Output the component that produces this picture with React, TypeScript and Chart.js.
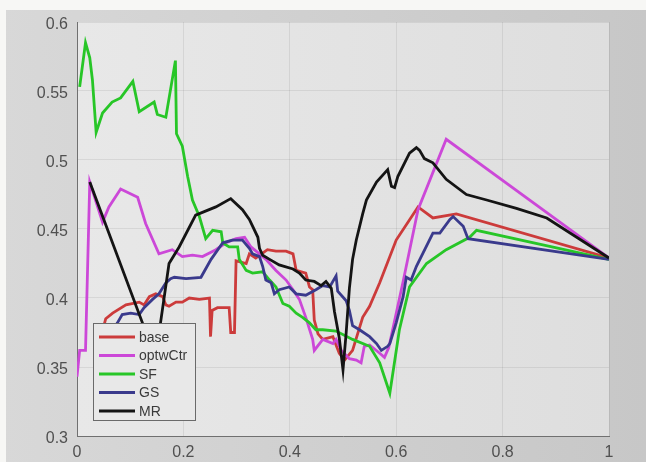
import React, { useEffect, useRef } from "react";
import { Chart, registerables } from "chart.js";

Chart.register(...registerables);

const seriesLabels = ["base", "optwCtr", "SF", "GS", "MR"];
const seriesColors = ["#cc3b3b", "#cc48d8", "#27c627", "#3a3a8c", "#141414"];

const xTicks = [0, 0.2, 0.4, 0.6, 0.8, 1];
const yTicks = [0.3, 0.35, 0.4, 0.45, 0.5, 0.55, 0.6];

const baseX = [0.045, 0.054, 0.067, 0.092, 0.117, 0.126, 0.136, 0.148, 0.161, 0.167, 0.173, 0.186, 0.198, 0.211, 0.23, 0.249, 0.251, 0.254, 0.264, 0.286, 0.289, 0.296, 0.299, 0.308, 0.318, 0.324, 0.336, 0.358, 0.374, 0.393, 0.406, 0.412, 0.43, 0.437, 0.443, 0.446, 0.453, 0.462, 0.481, 0.493, 0.503, 0.518, 0.537, 0.55, 0.569, 0.6, 0.641, 0.669, 0.713, 1.0];
const baseY = [0.372, 0.385, 0.389, 0.395, 0.397, 0.395, 0.401, 0.403, 0.401, 0.395, 0.394, 0.397, 0.397, 0.4, 0.399, 0.4, 0.372, 0.391, 0.393, 0.393, 0.375, 0.375, 0.427, 0.426, 0.425, 0.432, 0.429, 0.435, 0.434, 0.434, 0.432, 0.42, 0.418, 0.408, 0.406, 0.384, 0.374, 0.37, 0.372, 0.36, 0.355, 0.362, 0.386, 0.394, 0.411, 0.442, 0.466, 0.458, 0.461, 0.429];

const optX = [0.0, 0.005, 0.016, 0.024, 0.048, 0.06, 0.082, 0.114, 0.129, 0.154, 0.179, 0.198, 0.217, 0.236, 0.261, 0.28, 0.299, 0.315, 0.327, 0.343, 0.355, 0.374, 0.393, 0.406, 0.418, 0.43, 0.443, 0.446, 0.462, 0.481, 0.487, 0.497, 0.512, 0.525, 0.534, 0.54, 0.55, 0.569, 0.578, 0.586, 0.613, 0.641, 0.694, 1.0];
const optY = [0.343, 0.362, 0.362, 0.484, 0.455, 0.466, 0.479, 0.473, 0.454, 0.432, 0.435, 0.43, 0.431, 0.43, 0.435, 0.44, 0.443, 0.444, 0.437, 0.432, 0.428, 0.42, 0.413, 0.406, 0.399, 0.386, 0.37, 0.362, 0.37, 0.367, 0.37, 0.362, 0.356, 0.355, 0.353, 0.365, 0.366, 0.36, 0.357, 0.364, 0.412, 0.464, 0.515, 0.429];

const sfX = [0.005, 0.016, 0.024, 0.029, 0.036, 0.048, 0.066, 0.082, 0.105, 0.117, 0.145, 0.151, 0.167, 0.185, 0.187, 0.198, 0.208, 0.217, 0.23, 0.242, 0.255, 0.271, 0.274, 0.286, 0.302, 0.305, 0.318, 0.33, 0.349, 0.362, 0.374, 0.387, 0.399, 0.412, 0.424, 0.437, 0.449, 0.462, 0.487, 0.518, 0.55, 0.569, 0.588, 0.606, 0.625, 0.657, 0.694, 0.738, 0.751, 1.0];
const sfY = [0.553, 0.585, 0.574, 0.558, 0.52, 0.534, 0.542, 0.545, 0.557, 0.535, 0.542, 0.533, 0.531, 0.572, 0.519, 0.51, 0.488, 0.471, 0.459, 0.443, 0.449, 0.448, 0.44, 0.437, 0.437, 0.428, 0.42, 0.418, 0.419, 0.413, 0.408, 0.396, 0.394, 0.389, 0.386, 0.382, 0.377, 0.377, 0.376, 0.37, 0.365, 0.353, 0.331, 0.377, 0.408, 0.425, 0.435, 0.444, 0.449, 0.428];

const gsX = [0.06, 0.076, 0.085, 0.101, 0.117, 0.126, 0.142, 0.154, 0.167, 0.176, 0.183, 0.205, 0.233, 0.252, 0.274, 0.292, 0.311, 0.324, 0.33, 0.343, 0.349, 0.355, 0.365, 0.371, 0.38, 0.399, 0.412, 0.43, 0.449, 0.462, 0.475, 0.487, 0.49, 0.506, 0.512, 0.518, 0.531, 0.55, 0.563, 0.572, 0.584, 0.588, 0.6, 0.613, 0.619, 0.628, 0.638, 0.669, 0.682, 0.701, 0.707, 0.726, 0.735, 1.0];
const gsY = [0.372, 0.382, 0.388, 0.389, 0.388, 0.393, 0.399, 0.403, 0.411, 0.414, 0.415, 0.414, 0.415, 0.428, 0.44, 0.442, 0.442, 0.436, 0.432, 0.43, 0.423, 0.413, 0.411, 0.403, 0.406, 0.408, 0.403, 0.402, 0.406, 0.409, 0.408, 0.416, 0.405, 0.398, 0.391, 0.38, 0.377, 0.372, 0.367, 0.362, 0.365, 0.367, 0.382, 0.401, 0.415, 0.413, 0.423, 0.447, 0.447, 0.457, 0.459, 0.452, 0.443, 0.428];

const mrX = [0.024, 0.123, 0.14, 0.157, 0.173, 0.192, 0.223, 0.261, 0.289, 0.311, 0.324, 0.34, 0.343, 0.349, 0.362, 0.38, 0.406, 0.418, 0.43, 0.446, 0.459, 0.468, 0.478, 0.484, 0.493, 0.5, 0.506, 0.512, 0.518, 0.525, 0.537, 0.544, 0.563, 0.584, 0.591, 0.597, 0.603, 0.625, 0.638, 0.644, 0.653, 0.669, 0.694, 0.732, 0.77, 0.826, 0.883, 1.0];
const mrY = [0.484, 0.382, 0.358, 0.382, 0.425, 0.437, 0.46, 0.466, 0.472, 0.464, 0.457, 0.444, 0.436, 0.431, 0.428, 0.424, 0.421, 0.418, 0.413, 0.412, 0.409, 0.412, 0.407, 0.39, 0.371, 0.348, 0.375, 0.407, 0.428, 0.442, 0.461, 0.471, 0.484, 0.493, 0.481, 0.48, 0.488, 0.505, 0.509, 0.507, 0.501, 0.498, 0.486, 0.475, 0.471, 0.465, 0.458, 0.429];

const seriesX = [baseX, optX, sfX, gsX, mrX];
const seriesY = [baseY, optY, sfY, gsY, mrY];

const fmt = (v: number) => String(Number(v.toFixed(2)));

const bgPlugin = {
  id: "bgPlugin",
  beforeDraw(chart: any) {
    const { ctx, chartArea: a, width, height } = chart;
    ctx.save();
    const g = ctx.createLinearGradient(0, 0, width, 0);
    g.addColorStop(0, "#d8d8d8");
    g.addColorStop(1, "#c7c7c7");
    ctx.fillStyle = g;
    ctx.fillRect(0, 0, width, height);
    ctx.fillStyle = "#f7f7f5";
    ctx.fillRect(0, 0, width, 10);
    ctx.fillRect(0, 0, 6, height);
    const g2 = ctx.createLinearGradient(a.left, 0, a.right, 0);
    g2.addColorStop(0, "#e8e8e8");
    g2.addColorStop(1, "#dedede");
    ctx.fillStyle = g2;
    ctx.fillRect(a.left, a.top, a.right - a.left, a.bottom - a.top);
    ctx.restore();
  },
};

const legendPlugin = {
  id: "boxLegend",
  afterDatasetsDraw(chart: any) {
    const { ctx, chartArea: a } = chart;
    const left = a.left + 16;
    const bottom = a.bottom - 16;
    const w = 102;
    const h = 97;
    const top = bottom - h;
    ctx.save();
    ctx.fillStyle = "#e8e8e8";
    ctx.fillRect(left, top, w, h);
    ctx.strokeStyle = "#6a6a6a";
    ctx.lineWidth = 1;
    ctx.strokeRect(left + 0.5, top + 0.5, w, h);
    ctx.font = "14px 'Liberation Sans', Arial, sans-serif";
    ctx.textBaseline = "middle";
    chart.data.datasets.forEach((ds: any, i: number) => {
      const y = top + 14 + i * 18.5;
      ctx.strokeStyle = ds.borderColor;
      ctx.lineWidth = 3;
      ctx.beginPath();
      ctx.moveTo(left + 6, y);
      ctx.lineTo(left + 42, y);
      ctx.stroke();
      ctx.fillStyle = "#3a3a3a";
      ctx.fillText(ds.label, left + 46, y + 1);
    });
    ctx.restore();
  },
};

export default function App() {
  const ref = useRef<HTMLCanvasElement | null>(null);
  useEffect(() => {
    if (!ref.current) return;
    const datasets = seriesLabels.map((label, i) => ({
      label,
      data: seriesX[i].map((x, j) => ({ x, y: seriesY[i][j] })),
      borderColor: seriesColors[i],
      backgroundColor: seriesColors[i],
      borderWidth: 2.8,
      pointRadius: 0,
      tension: 0,
      fill: false,
      order: seriesLabels.length - i,
    }));
    const tickFont = { family: "'Liberation Sans', Arial, sans-serif", size: 16 };
    const chart = new Chart(ref.current, {
      type: "line",
      data: { datasets },
      plugins: [bgPlugin, legendPlugin],
      options: {
        animation: false,
        responsive: false,
        devicePixelRatio: 1,
        layout: { padding: { left: 0, right: 37, top: 22, bottom: 0 } },
        plugins: { legend: { display: false }, tooltip: { enabled: false } },
        scales: {
          x: {
            type: "linear",
            min: 0,
            max: 1,
            afterBuildTicks: (s: any) => {
              s.ticks = xTicks.map((v) => ({ value: v }));
            },
            afterFit: (s: any) => {
              s.height = 26;
            },
            ticks: { callback: (v: any) => fmt(Number(v)), color: "#505050", font: tickFont, padding: 7, maxRotation: 0 },
            grid: { color: "rgba(0,0,0,0.07)", drawTicks: false },
            border: { display: true, color: "#707070", width: 1 },
          },
          y: {
            type: "linear",
            min: 0.3,
            max: 0.6,
            afterBuildTicks: (s: any) => {
              s.ticks = yTicks.map((v) => ({ value: v }));
            },
            afterFit: (s: any) => {
              s.width = 77;
            },
            ticks: { callback: (v: any) => fmt(Number(v)), color: "#505050", font: tickFont, padding: 9, labelOffset: 3 },
            grid: { color: "rgba(0,0,0,0.07)", drawTicks: false },
            border: { display: true, color: "#707070", width: 1 },
          },
        },
      },
    } as any);
    return () => chart.destroy();
  }, []);
  return (
    <div style={{ position: "fixed", left: 0, top: 0, width: 646, height: 462 }}>
      <canvas ref={ref} width={646} height={462} style={{ display: "block", width: 646, height: 462 }} />
    </div>
  );
}
